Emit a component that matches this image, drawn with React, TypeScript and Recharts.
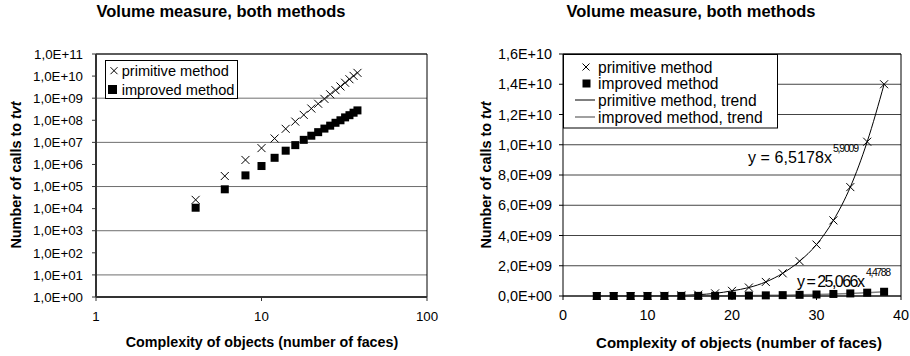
import React from "react";
import { ScatterChart, ComposedChart, Scatter, Line, XAxis, YAxis, CartesianGrid, ReferenceLine } from "recharts";

const FONT = '"Liberation Sans", Arial, sans-serif';

// number of faces per test object
const faces = [4, 6, 8, 10, 12, 14, 16, 18, 20, 22, 24, 26, 28, 30, 32, 34, 36, 38];
// calls to tvt
const primitiveCalls = [2.5e4, 3.0e5, 1.6e6, 5.5e6, 1.5e7, 4.1e7, 8.7e7, 1.75e8, 3.4e8, 5.6e8, 9.3e8, 1.5e9, 2.3e9, 3.4e9, 5.0e9, 7.2e9, 1.02e10, 1.4e10];
const improvedCalls = [1.1e4, 7.5e4, 3.2e5, 8.5e5, 2.0e6, 4.2e6, 7.5e6, 1.3e7, 2.0e7, 2.9e7, 4.2e7, 5.7e7, 7.7e7, 1.0e8, 1.35e8, 1.7e8, 2.2e8, 2.8e8];

const logXTicks = [1, 10, 100];
const logYTicks = [1, 1e1, 1e2, 1e3, 1e4, 1e5, 1e6, 1e7, 1e8, 1e9, 1e10, 1e11];
const linXTicks = [0, 10, 20, 30, 40];
const linYTicks = [0, 2e9, 4e9, 6e9, 8e9, 1e10, 1.2e10, 1.4e10, 1.6e10];

const primitiveRows = faces.map((x, i) => ({ x, y: primitiveCalls[i] }));
const improvedRows = faces.map((x, i) => ({ x, y: improvedCalls[i] }));

const sci = (v: number) => {
  if (v === 0) return "0,0E+00";
  const e = Math.floor(Math.log10(v) + 1e-9);
  const m = (v / Math.pow(10, e)).toFixed(1).replace(".", ",");
  return `${m}E+${String(e).padStart(2, "0")}`;
};

const cross = (s: number) => (p: any) => (
  <path
    d={`M${p.cx - s},${p.cy - s}L${p.cx + s},${p.cy + s}M${p.cx - s},${p.cy + s}L${p.cx + s},${p.cy - s}`}
    stroke="#000"
    strokeWidth={1}
    fill="none"
  />
);
const square = (s: number) => (p: any) => (
  <rect x={p.cx - s / 2} y={p.cy - s / 2} width={s} height={s} fill="#000" />
);

function LogChart() {
  const tick = { fill: "#000", fontSize: 13.3, fontFamily: FONT };
  return (
    <ScatterChart width={455} height={356} margin={{ top: 54, right: 28, bottom: 29, left: 0 }}>
      <CartesianGrid vertical={false} stroke="#6e6e6e" />
      <XAxis
        type="number"
        dataKey="x"
        scale="log"
        domain={[1, 100]}
        ticks={logXTicks}
        height={30}
        tick={tick}
        tickSize={4}
        tickMargin={11}
        axisLine={{ stroke: "#333", strokeWidth: 2 }}
        tickLine={{ stroke: "#333" }}
      />
      <YAxis
        type="number"
        dataKey="y"
        scale="log"
        domain={[1, 1e11]}
        ticks={logYTicks}
        width={96}
        tick={tick}
        tickSize={4}
        tickMargin={9}
        tickFormatter={sci}
        axisLine={{ stroke: "#333", strokeWidth: 2 }}
        tickLine={{ stroke: "#333" }}
      />
      <ReferenceLine y={1e11} stroke="#000" />
      <ReferenceLine x={100} stroke="#000" />
      <Scatter data={improvedRows} dataKey="y" shape={square(8)} isAnimationActive={false} />
      <Scatter data={primitiveRows} dataKey="y" shape={cross(4)} isAnimationActive={false} />
    </ScatterChart>
  );
}

function LinearChart() {
  const tick = { fill: "#000", fontSize: 14.4, fontFamily: FONT };
  return (
    <ComposedChart width={455} height={356} margin={{ top: 54, right: 9, bottom: 30, left: 0 }}>
      <CartesianGrid vertical={false} stroke="#444" />
      <XAxis
        type="number"
        dataKey="x"
        domain={[0, 40]}
        ticks={linXTicks}
        height={30}
        tick={tick}
        tickSize={4}
        tickMargin={10}
        axisLine={{ stroke: "#000" }}
        tickLine={{ stroke: "#000" }}
      />
      <YAxis
        type="number"
        dataKey="y"
        domain={[0, 1.6e10]}
        ticks={linYTicks}
        width={108}
        tick={tick}
        tickSize={4}
        tickMargin={7}
        tickFormatter={sci}
        axisLine={{ stroke: "#000" }}
        tickLine={{ stroke: "#000" }}
      />
      <ReferenceLine y={1.6e10} stroke="#000" />
      <ReferenceLine x={40} stroke="#000" />
      <Line data={primitiveRows} dataKey="y" type="monotone" stroke="#000" strokeWidth={1} dot={false} isAnimationActive={false} />
      <Line data={improvedRows} dataKey="y" type="monotone" stroke="#808080" strokeWidth={1.5} dot={false} isAnimationActive={false} />
      <Scatter data={primitiveRows} dataKey="y" shape={cross(4)} isAnimationActive={false} />
      <Scatter data={improvedRows} dataKey="y" shape={square(8)} isAnimationActive={false} />
    </ComposedChart>
  );
}

export default function App() {
  const bold = { fontFamily: FONT, fontWeight: 700 as const, fill: "#000" };
  const plain = { fontFamily: FONT, fill: "#000" };
  return (
    <div style={{ position: "absolute", left: 0, top: 0, width: 910, height: 356, background: "#fff" }}>
      <div style={{ position: "absolute", left: 0, top: 0 }}>
        <LogChart />
      </div>
      <div style={{ position: "absolute", left: 455, top: 0 }}>
        <LinearChart />
      </div>
      <svg width={910} height={356} style={{ position: "absolute", left: 0, top: 0, pointerEvents: "none" }}>
        {/* titles */}
        <text x={221} y={10.5} textAnchor="middle" dominantBaseline="central" fontSize={16.5} {...bold}>
          Volume measure, both methods
        </text>
        <text x={691} y={10.5} textAnchor="middle" dominantBaseline="central" fontSize={16.5} {...bold}>
          Volume measure, both methods
        </text>
        <text x={262} y={342} textAnchor="middle" dominantBaseline="central" fontSize={14.3} {...bold}>
          Complexity of objects (number of faces)
        </text>
        <text x={739} y={342} textAnchor="middle" dominantBaseline="central" fontSize={15} {...bold}>
          Complexity of objects (number of faces)
        </text>
        <text transform="translate(16,175) rotate(-90)" textAnchor="middle" dominantBaseline="central" fontSize={14.4} {...bold}>
          Number of calls to <tspan fontStyle="italic">tvt</tspan>
        </text>
        <text transform="translate(486,175) rotate(-90)" textAnchor="middle" dominantBaseline="central" fontSize={14.4} {...bold}>
          Number of calls to <tspan fontStyle="italic">tvt</tspan>
        </text>

        {/* trend equations */}
        <text x={748} y={163} fontSize={16} textLength={84} {...plain}>y = 6,5178x</text>
        <text x={833} y={152} fontSize={10.5} textLength={26} {...plain}>5,9009</text>
        <text x={797} y={286.5} fontSize={16} textLength={68} {...plain}>y = 25,066x</text>
        <text x={866} y={276} fontSize={10.5} textLength={25} {...plain}>4,4788</text>

        {/* left legend */}
        <rect x={105.5} y={60.5} width={132} height={38} fill="#fff" stroke="#000" />
        <path d="M110.5,67.2L117.5,74.2M110.5,74.2L117.5,67.2" stroke="#000" fill="none" />
        <text x={121.7} y={71} dominantBaseline="central" fontSize={14.6} {...plain}>primitive method</text>
        <rect x={108} y={85} width={9} height={9} fill="#000" />
        <text x={121.7} y={89.5} dominantBaseline="central" fontSize={14.6} {...plain}>improved method</text>

        {/* right legend */}
        <rect x={563.5} y={54.5} width={214} height={73.5} fill="#fff" stroke="#000" />
        <path d="M582.5,63.5L589.5,70.5M582.5,70.5L589.5,63.5" stroke="#000" fill="none" />
        <text x={598} y={67} dominantBaseline="central" fontSize={15.6} {...plain}>primitive method</text>
        <rect x={582.5} y={79.5} width={8} height={8} fill="#000" />
        <text x={598} y={83.5} dominantBaseline="central" fontSize={15.6} {...plain}>improved method</text>
        <line x1={575} x2={595} y1={100} y2={100} stroke="#000" />
        <text x={598} y={100} dominantBaseline="central" fontSize={15.6} {...plain}>primitive method, trend</text>
        <line x1={575} x2={595} y1={117} y2={117} stroke="#808080" strokeWidth={1.5} />
        <text x={598} y={117} dominantBaseline="central" fontSize={15.6} {...plain}>improved method, trend</text>
      </svg>
    </div>
  );
}
